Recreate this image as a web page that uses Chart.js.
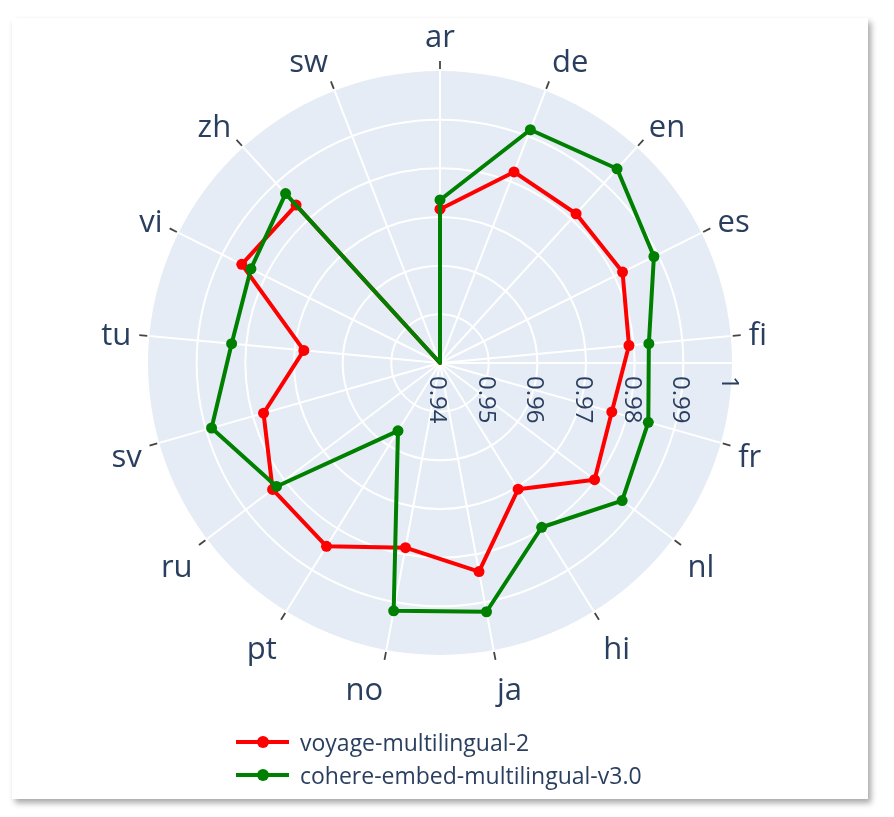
<!DOCTYPE html>
<html>
<head>
<meta charset="utf-8">
<script src="https://cdn.jsdelivr.net/npm/chart.js@4.4.1/dist/chart.umd.min.js"></script>
<style>
  body { margin: 0; width: 894px; height: 817px; background: #fff; position: relative; overflow: hidden; font-family: "Open Sans", sans-serif; }
  #card { position: absolute; left: 12px; top: 18px; width: 856px; height: 781px; background: #fff; box-shadow: 3px 4px 6px rgba(0,0,0,0.35); }
  #radar { position: absolute; left: 0; top: 0; }
  #legend { position: absolute; left: 236px; top: 725px; color: #2a3f5f; font-size: 23px; }
  .item { height: 33px; display: flex; align-items: center; white-space: nowrap; }
  .swatch { position: relative; width: 53px; height: 4px; margin-right: 11px; }
  .swatch i { position: absolute; left: 21px; top: -4px; width: 12px; height: 12px; border-radius: 50%; }
</style>
</head>
<body>
<div id="card"></div>
<canvas id="radar" width="894" height="817"></canvas>
<div id="legend"></div>
<script>
// Data
const categories = ['ar', 'de', 'en', 'es', 'fi', 'fr', 'nl', 'hi', 'ja', 'no', 'pt', 'ru', 'sv', 'tu', 'vi', 'zh', 'sw'];
const voyageScores = [0.9716, 0.9821, 0.9815, 0.9819, 0.9790, 0.9767, 0.9798, 0.9705, 0.9836, 0.9786, 0.9843, 0.9831, 0.9777, 0.9681, 0.9855, 0.9839, 0.94];
const cohereScores = [0.9735, 0.9914, 0.9940, 0.9891, 0.9831, 0.9845, 0.9869, 0.9797, 0.9920, 0.9918, 0.9564, 0.9821, 0.9888, 0.9830, 0.9834, 0.9871, 0.94];
const radialTicks = [0.94, 0.95, 0.96, 0.97, 0.98, 0.99, 1];
const seriesNames = ['voyage-multilingual-2', 'cohere-embed-multilingual-v3.0'];
const seriesColors = ['#ff0000', '#008000'];

const rMin = radialTicks[0];
const rMax = radialTicks[radialTicks.length - 1];
const textColor = '#2a3f5f';

// Points sitting at the centre are outside the plotted range: no marker there
const markerRadius = (ctx) => (ctx.raw <= rMin ? 0 : 5.5);

// Plotly-like polar decorations
const polarDecor = {
    id: 'polarDecor',
    beforeDraw(chart) {
        const s = chart.scales.r;
        const c = chart.ctx;
        c.save();
        c.fillStyle = '#e5ecf6';
        c.beginPath();
        c.arc(s.xCenter, s.yCenter, s.drawingArea, 0, Math.PI * 2);
        c.fill();
        c.restore();
    },
    beforeDatasetsDraw(chart) {
        const s = chart.scales.r;
        const c = chart.ctx;
        const R = s.drawingArea;
        const fs = 31, pad = 18;
        c.save();
        // radial axis line (east)
        c.strokeStyle = '#fff';
        c.lineWidth = 2;
        c.beginPath();
        c.moveTo(s.xCenter, s.yCenter);
        c.lineTo(s.xCenter + R, s.yCenter);
        c.stroke();

        // angular ticks and labels (placed the way plotly does it)
        c.font = fs + 'px "Open Sans"';
        c.fillStyle = textColor;
        c.textBaseline = 'alphabetic';
        categories.forEach((label, i) => {
            const p1 = s.getPointPosition(i, R + 2);
            const p2 = s.getPointPosition(i, R + 10);
            c.strokeStyle = '#444';
            c.lineWidth = 1.8;
            c.beginPath();
            c.moveTo(p1.x, p1.y);
            c.lineTo(p2.x, p2.y);
            c.stroke();
            const p = s.getPointPosition(i, R);
            const cs = Math.cos(p.angle), sn = Math.sin(p.angle);
            const ff = -sn > 0 ? 0.2 : 1;
            c.textAlign = Math.abs(cs) < 0.1 ? 'center' : (cs > 0 ? 'left' : 'right');
            const x = p.x + cs * pad;
            const y = p.y + sn * (pad + fs * ff) + Math.abs(cs) * fs * 0.35;
            c.fillText(label, x, y);
        });

        // radial tick labels, rotated
        c.font = '24px "Open Sans"';
        c.textAlign = 'left';
        c.textBaseline = 'middle';
        radialTicks.forEach(v => {
            const x = s.xCenter + s.getDistanceFromCenterForValue(v) - 3;
            c.save();
            c.translate(x, s.yCenter + 13);
            c.rotate(Math.PI / 2);
            c.fillText(String(v), 0, 0);
            c.restore();
        });
        c.restore();
    }
};

new Chart(document.getElementById('radar'), {
    type: 'radar',
    data: {
        labels: categories,
        datasets: [{
            label: seriesNames[0],
            data: voyageScores,
            borderColor: seriesColors[0],
            backgroundColor: seriesColors[0],
            pointBackgroundColor: seriesColors[0],
            borderWidth: 4,
            pointRadius: markerRadius,
            pointBorderWidth: 0,
            borderJoinStyle: 'round',
            fill: false,
            order: 1
        }, {
            label: seriesNames[1],
            data: cohereScores,
            borderColor: seriesColors[1],
            backgroundColor: seriesColors[1],
            pointBackgroundColor: seriesColors[1],
            borderWidth: 4,
            pointRadius: markerRadius,
            pointBorderWidth: 0,
            borderJoinStyle: 'round',
            fill: false,
            order: 0
        }]
    },
    options: {
        responsive: false,
        animation: false,
        layout: { padding: { left: 148, top: 71, right: 162, bottom: 162 } },
        plugins: { legend: { display: false }, tooltip: { enabled: false } },
        scales: {
            r: {
                min: rMin,
                max: rMax,
                ticks: { display: false, stepSize: 0.01 },
                pointLabels: { display: false },
                grid: {
                    circular: true,
                    lineWidth: 2,
                    color: (ctx) => (ctx.tick && ctx.tick.value > 0.9995 ? 'rgba(0,0,0,0)' : '#fff')
                },
                angleLines: { color: '#fff', lineWidth: 2 }
            }
        }
    },
    plugins: [polarDecor]
});

// Legend
const legend = document.getElementById('legend');
legend.innerHTML = seriesNames.map((name, i) =>
    `<div class="item"><span class="swatch" style="background:${seriesColors[i]}"><i style="background:${seriesColors[i]}"></i></span>${name}</div>`
).join('');
</script>
</body>
</html>
